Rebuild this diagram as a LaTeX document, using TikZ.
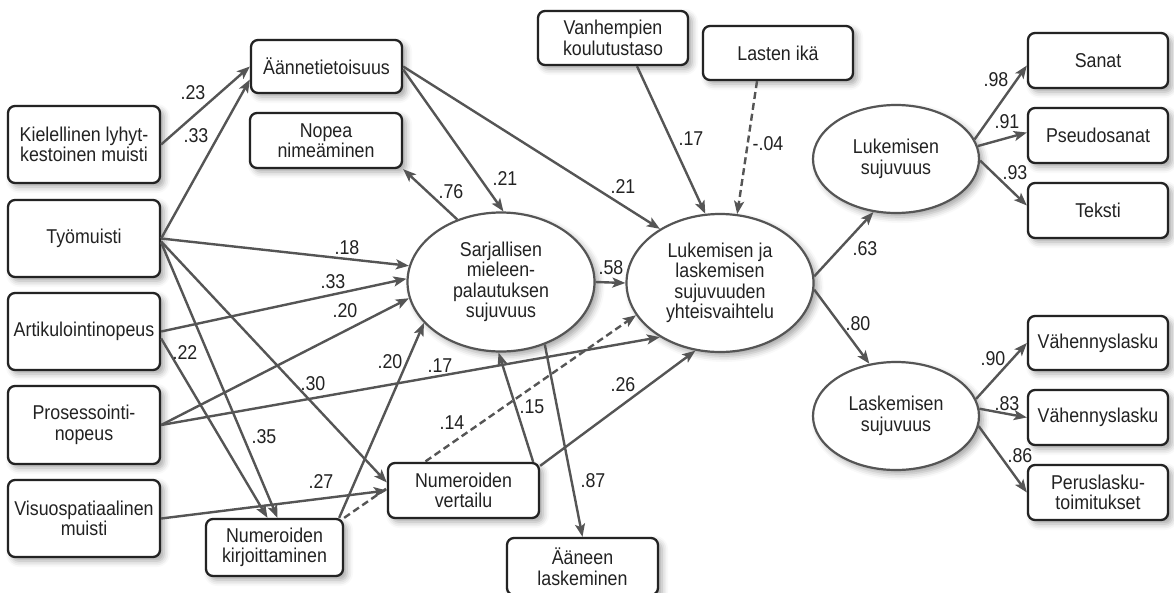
\documentclass[tikz,border=0pt]{standalone}
\usepackage{fontspec}
\setmainfont{Liberation Sans}[FakeStretch=0.89]
\usetikzlibrary{shapes.geometric,arrows.meta,shadows.blur,calc}
\pgfdeclarelayer{bg}
\pgfsetlayers{bg,main}
\definecolor{edgec}{HTML}{555555}
\definecolor{boxc}{HTML}{232323}
\definecolor{ellc}{HTML}{555555}
\definecolor{txtc}{HTML}{222222}
\tikzset{
 shad/.style={blur shadow={shadow xshift=4pt, shadow yshift=-4pt, shadow blur radius=6pt, shadow opacity=35}},
 box/.style={draw=boxc, line width=2.3pt, rounded corners=7pt, fill=white, align=center, inner sep=2pt, text=txtc, shad},
 ell/.style={ellipse, draw=ellc, line width=2.2pt, fill=white, align=center, inner sep=0pt, text=txtc, shad},
 conn/.style={draw=edgec, line width=2.4pt, -{Stealth[length=13pt,width=10pt,inset=3pt]}},
 dconn/.style={conn, dash pattern=on 7pt off 4pt},
 lbl/.style={text=txtc, inner sep=0pt},
}
\begin{document}
\begin{tikzpicture}[x=1pt,y=-1pt,font=\fontsize{20}{20.5}\selectfont]
\useasboundingbox (0,0) rectangle (1174,592);
% boxes
\node[box, minimum width=151pt, minimum height=53pt] (aen) at (326.5,66.5) {Äännetietoisuus};
\node[box, minimum width=152pt, minimum height=55pt] (nop) at (326,140.5) {Nopea\\nimeäminen};
\node[box, minimum width=152pt, minimum height=77pt] (kiel) at (84,144.5) {Kielellinen lyhyt-\\kestoinen muisti};
\node[box, minimum width=152pt, minimum height=77pt] (tyo) at (84,238.5) {Työmuisti};
\node[box, minimum width=152pt, minimum height=77pt] (art) at (84,331.5) {Artikulointinopeus};
\node[box, minimum width=152pt, minimum height=78pt] (pros) at (84,425) {Prosessointi-\\nopeus};
\node[box, minimum width=152pt, minimum height=77pt] (vis) at (84,518.5) {Visuospatiaalinen\\muisti};
\node[box, minimum width=137pt, minimum height=57pt] (nkir) at (274.5,547.5) {Numeroiden\\kirjoittaminen};
\node[box, minimum width=151pt, minimum height=55pt] (nver) at (463.5,490.5) {Numeroiden\\vertailu};
\node[box, minimum width=151pt, minimum height=57pt] (aan) at (582.5,566.5) {Ääneen\\laskeminen};
\node[box, minimum width=150pt, minimum height=54pt] (van) at (613,38) {Vanhempien\\koulutustaso};
\node[box, minimum width=150pt, minimum height=54pt] (las) at (778,53) {Lasten ikä};
\node[box, minimum width=140pt, minimum height=55pt] (san) at (1098,60.5) {Sanat};
\node[box, minimum width=140pt, minimum height=55pt] (pse) at (1098,135.5) {Pseudosanat};
\node[box, minimum width=140pt, minimum height=55pt] (tek) at (1098,210.5) {Teksti};
\node[box, minimum width=140pt, minimum height=54pt] (vah1) at (1098,343) {Vähennyslasku};
\node[box, minimum width=140pt, minimum height=55pt] (vah2) at (1098,417.5) {Vähennyslasku};
\node[box, minimum width=140pt, minimum height=55pt] (per) at (1098,492.5) {Peruslasku-\\toimitukset};
% ellipses
\node[ell, minimum width=187pt, minimum height=139pt] (sar) at (501,282) {Sarjallisen\\mieleen-\\palautuksen\\sujuvuus};
\node[ell, minimum width=187pt, minimum height=138pt] (ll) at (720,283) {Lukemisen ja\\laskemisen\\sujuvuuden\\yhteisvaihtelu};
\node[ell, minimum width=166pt, minimum height=108pt] (lsu) at (896,159) {Lukemisen\\sujuvuus};
\node[ell, minimum width=166pt, minimum height=108pt] (ksu) at (896,416) {Laskemisen\\sujuvuus};
% connectors
\draw[conn] (kiel.east) -- (aen.west) node[lbl,at={(193,93)}]{.23};
\draw[conn] (tyo.east) -- ($(aen.west)+(0,13)$) node[lbl,at={(196,136)}]{.33};
\draw[conn] (tyo.east) -- (sar.170) node[lbl,at={(347,248)}]{.18};
\draw[conn] (art.east) -- (sar.178) node[lbl,at={(333,282)}]{.33};
\draw[conn] (pros.east) -- (sar.190) node[lbl,at={(345,311)}]{.20};
\draw[conn] (pros.east) -- (ll.222) node[lbl,at={(440,366)}]{.17};
\draw[conn] ($(art.east)+(0,7)$) -- ($(nkir.north)+(-7,0)$) node[lbl,at={(185,353)}]{.22};
\draw[conn] ($(tyo.east)+(0,4)$) -- ($(nkir.north)+(3,0)$) node[lbl,at={(264,437)}]{.35};
\draw[conn] ($(tyo.east)+(0,3)$) -- ($(nver.west)+(0,-8)$) node[lbl,at={(313,384)}]{.30};
\draw[conn] (vis.east) -- (nver.west) node[lbl,at={(321,482)}]{.27};
\draw[conn] ($(nkir.north east)+(-5,0)$) -- (sar.208) node[lbl,at={(390,362)}]{.20};
\begin{pgfonlayer}{bg}
\draw[dconn] (nkir.north east) -- (ll.201) node[lbl,at={(452,423)}]{.14};
\end{pgfonlayer}
\draw[conn] ($(nver.north east)+(-7,0)$) -- (sar.268) node[lbl,at={(532,407)}]{.15};
\draw[conn] ($(nver.north east)+(0,4)$) -- (ll.250) node[lbl,at={(623,385)}]{.26};
\draw[conn] (sar.305) -- (aan.north) node[lbl,at={(593,481)}]{.87};
\draw[conn] (sar.125) -- (nop.south east) node[lbl,at={(451,192)}]{.76};
\draw[conn] ($(aen.east)+(0,3)$) -- (sar.88) node[lbl,at={(505,179)}]{.21};
\draw[conn] (aen.east) -- (ll.138) node[lbl,at={(623,187)}]{.21};
\draw[conn] (sar.east) -- (ll.west) node[lbl,at={(611,268)}]{.58};
\draw[conn] ($(van.south)+(24,0)$) -- (ll.102) node[lbl,at={(691,139)}]{.17};
\draw[dconn] ($(las.south)+(-21,0)$) -- (ll.76) node[lbl,at={(768,144)}]{-.04};
\draw[conn] (ll.4) -- (lsu.247) node[lbl,at={(865,249)}]{.63};
\draw[conn] (ll.356) -- (ksu.117) node[lbl,at={(858,324)}]{.80};
\draw[conn] (lsu.14) -- ($(san.west)+(0,5)$) node[lbl,at={(996,80)}]{.98};
\draw[conn] (lsu.9) -- ($(pse.west)+(0,-3)$) node[lbl,at={(1007,122)}]{.91};
\draw[conn] (lsu.-1) -- ($(tek.west)+(0,-5)$) node[lbl,at={(1015,173)}]{.93};
\draw[conn] (ksu.12) -- (vah1.west) node[lbl,at={(993,359)}]{.90};
\draw[conn] (ksu.5) -- (vah2.west) node[lbl,at={(1007,404)}]{.83};
\draw[conn] (ksu.-7) -- (per.west) node[lbl,at={(1020,456)}]{.86};
\end{tikzpicture}
\end{document}
